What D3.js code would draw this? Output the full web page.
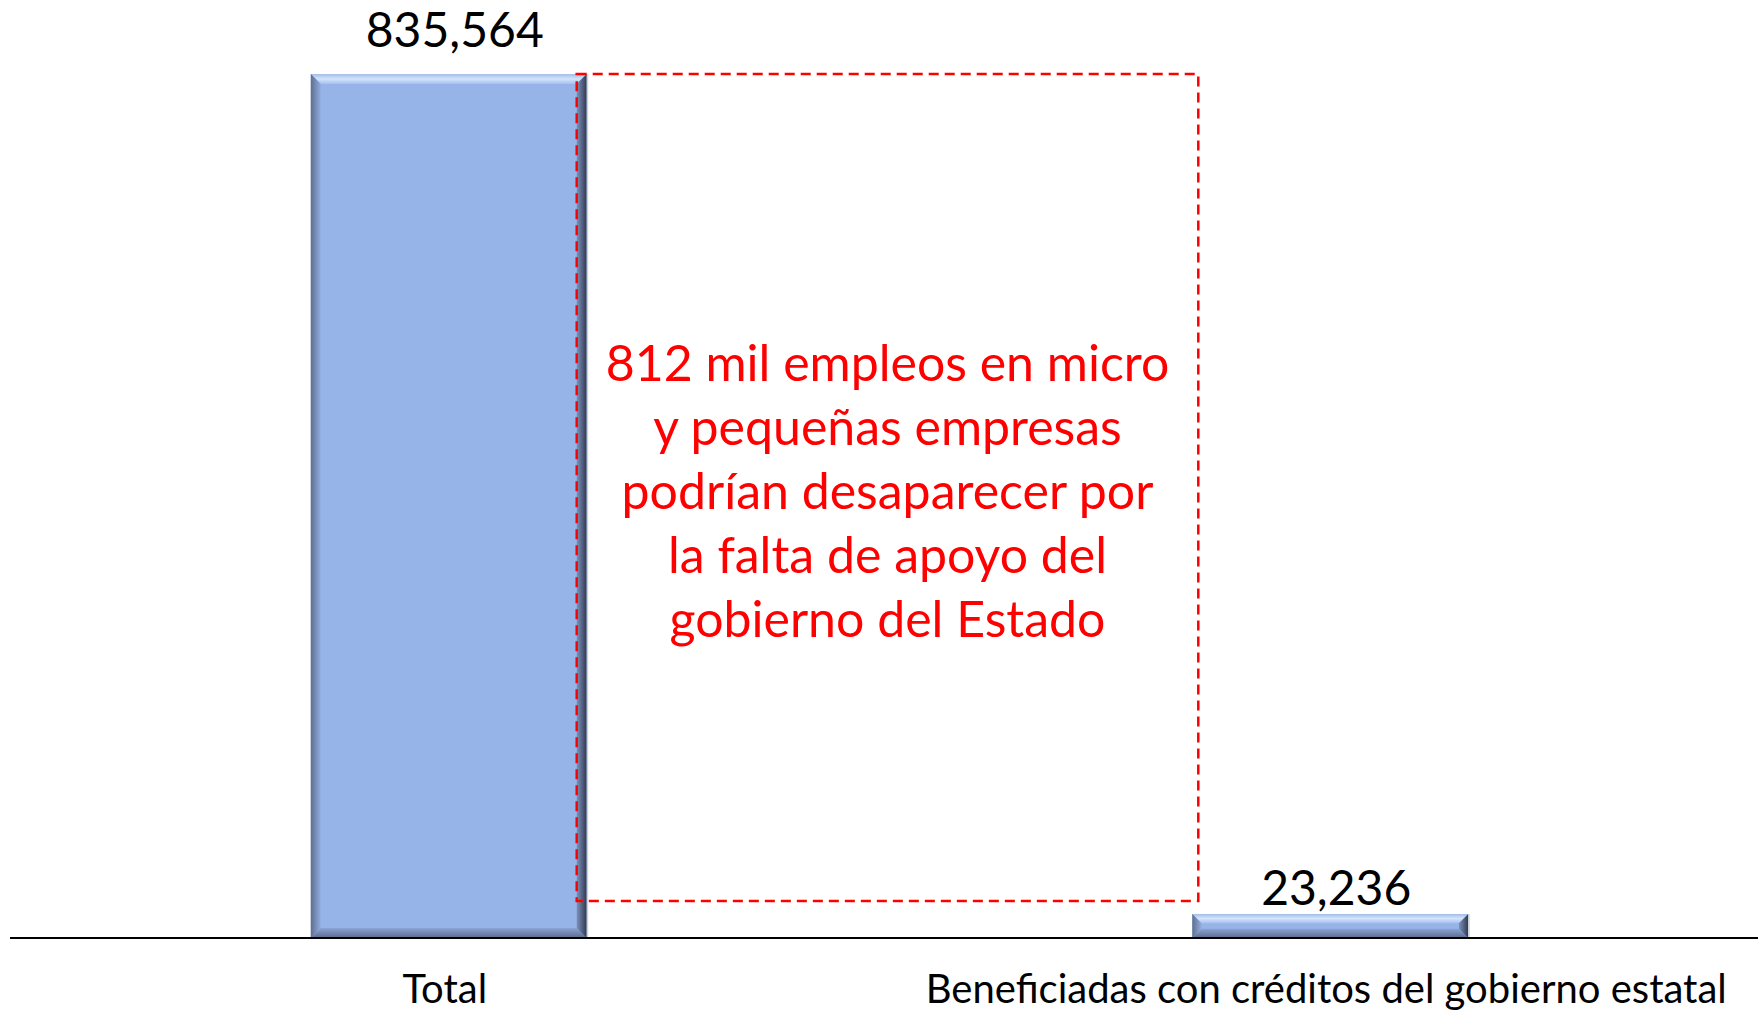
<!DOCTYPE html>
<html>
<head>
<meta charset="utf-8">
<script src="https://cdn.jsdelivr.net/npm/d3@7"></script>
<style>
  html, body { margin: 0; padding: 0; background: #fff; }
  svg { display: block; }
  text { font-family: Lato, "Open Sans", sans-serif; }
</style>
</head>
<body>
<div id="chart"></div>
<script>
// data
var categories = ["Total", "Beneficiadas con créditos del gobierno estatal"];
var values = [835564, 23236];
var noteLines = [
  "812 mil empleos en micro",
  "y pequeñas empresas",
  "podrían desaparecer por",
  "la falta de apoyo del",
  "gobierno del Estado"
];

var width = 1758, height = 1013;
var baseY = 938, topY = 74;

var svg = d3.select("#chart").append("svg")
  .attr("width", width)
  .attr("height", height);

var x = d3.scaleBand()
  .domain(categories)
  .range([8, 1771])
  .paddingInner(0.687)
  .paddingOuter(0.3435);

var y = d3.scaleLinear()
  .domain([0, d3.max(values)])
  .range([baseY, topY]);

// gradients for the bevelled bars
var defs = svg.append("defs");
var addGrad = function(id, x2, y2, stops){
  var g = defs.append("linearGradient")
    .attr("id", id)
    .attr("x1", 0).attr("y1", 0)
    .attr("x2", x2).attr("y2", y2);
  stops.forEach(function(s){
    g.append("stop").attr("offset", s[0]).attr("stop-color", s[1]);
  });
};
addGrad("bevTop", 0, 1, [["0%", "#a3bdea"], ["50%", "#d3e4fb"], ["100%", "#a6c0ee"]]);
addGrad("bevLeft", 1, 0, [["0%", "#5d6f90"], ["100%", "#93addf"]]);
addGrad("bevRight", 1, 0, [["0%", "#7d91bb"], ["100%", "#2f3a50"]]);
addGrad("bevBottom", 0, 1, [["0%", "#8ca4d4"], ["100%", "#5b6c8c"]]);

var data = categories.map(function(c, i){ return {name: c, value: values[i]}; });
var maxVal = d3.max(values);

var bars = svg.append("g").selectAll("g.bar")
  .data(data).enter()
  .append("g")
  .attr("class", "bar");

bars.each(function(d){
  var g = d3.select(this);
  var x0 = x(d.name), x1 = x0 + x.bandwidth();
  var y0 = y(d.value), y1 = y(0);
  var b = Math.min(10, (y1 - y0) / 2.6);

  g.append("rect")
    .attr("x", x0).attr("y", y0)
    .attr("width", x1 - x0).attr("height", y1 - y0)
    .attr("fill", "#97b4e9");

  var poly = function(pts, fill){
    g.append("polygon")
      .attr("points", pts.map(function(p){ return p.join(","); }).join(" "))
      .attr("fill", fill);
  };
  poly([[x0, y0], [x1, y0], [x1 - b, y0 + b], [x0 + b, y0 + b]], "url(#bevTop)");
  poly([[x0, y1], [x1, y1], [x1 - b, y1 - b], [x0 + b, y1 - b]], "url(#bevBottom)");
  poly([[x0, y0], [x0 + b, y0 + b], [x0 + b, y1 - b], [x0, y1]], "url(#bevLeft)");
  poly([[x1, y0], [x1, y1], [x1 - b, y1 - b], [x1 - b, y0 + b]], "url(#bevRight)");

  // faint shadow line on right edge
  g.append("line")
    .attr("x1", x1 + 0.8).attr("x2", x1 + 0.8)
    .attr("y1", y0).attr("y2", y1)
    .attr("stroke", "#cfd3da").attr("stroke-width", 1.5);
});

// value labels (the tallest one sits higher, at the top of the chart area)
bars.append("text")
  .attr("x", function(d){ return x(d.name) + x.bandwidth() / 2 + 6; })
  .attr("y", function(d){ return y(d.value) - (d.value === maxVal ? 27 : 9); })
  .attr("text-anchor", "middle")
  .attr("font-size", 48)
  .attr("fill", "#000")
  .text(function(d){ return d3.format(",")(d.value); });

// baseline
svg.append("line")
  .attr("x1", 10).attr("x2", width)
  .attr("y1", baseY).attr("y2", baseY)
  .attr("stroke", "#000")
  .attr("stroke-width", 2);

// category labels
svg.append("g").selectAll("text")
  .data(categories).enter()
  .append("text")
  .attr("x", function(d){ return x(d) + x.bandwidth() / 2 - 4; })
  .attr("y", 1003)
  .attr("text-anchor", "middle")
  .attr("font-size", 40)
  .attr("fill", "#000")
  .text(function(d){ return d; });

// dashed annotation box between the two bars
var boxL = x(categories[0]) + x.bandwidth() - 10;
var boxR = x(categories[1]) + 6;
var boxT = y(values[0]);
var boxB = y(values[1]) - 13;

svg.append("rect")
  .attr("x", boxL).attr("y", boxT)
  .attr("width", boxR - boxL).attr("height", boxB - boxT)
  .attr("fill", "none")
  .attr("stroke", "#ff0000")
  .attr("stroke-width", 2.5)
  .attr("stroke-dasharray", "10,6");

svg.append("g").selectAll("text")
  .data(noteLines).enter()
  .append("text")
  .attr("x", (boxL + boxR) / 2)
  .attr("y", function(d, i){ return 381 + i * 64; })
  .attr("text-anchor", "middle")
  .attr("font-size", 50)
  .attr("fill", "#ff0000")
  .text(function(d){ return d; });
</script>
</body>
</html>
